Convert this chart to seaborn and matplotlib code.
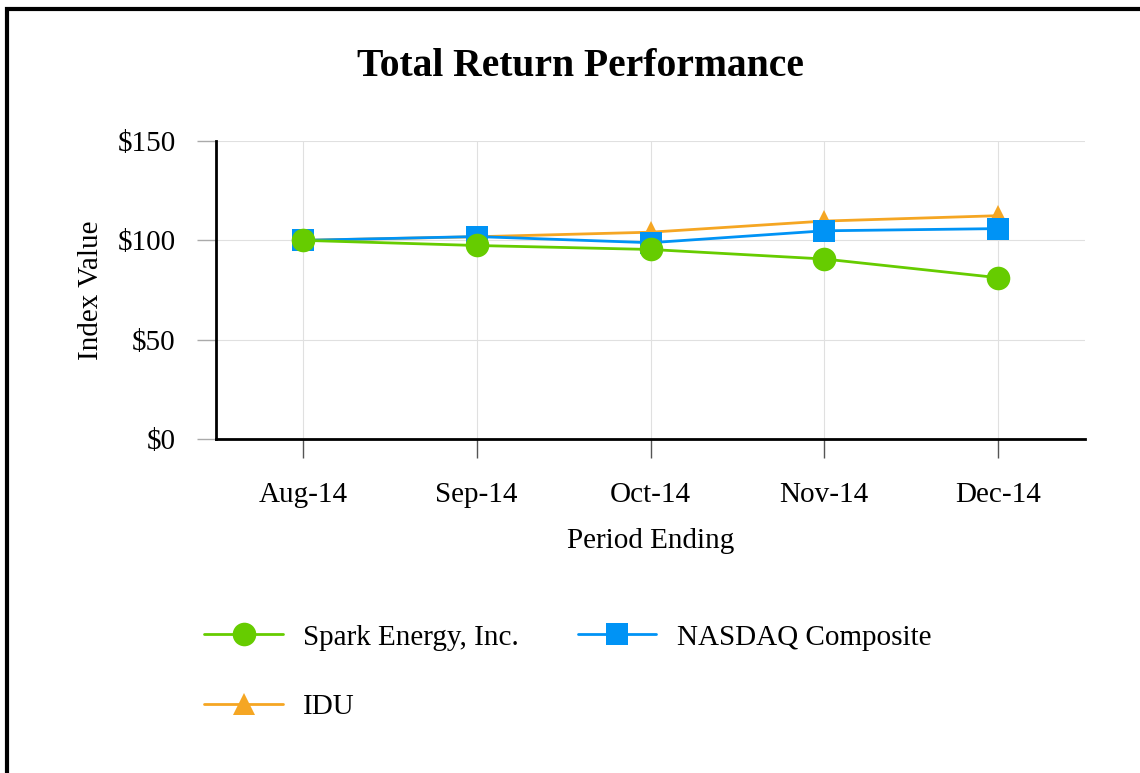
import matplotlib
matplotlib.use("Agg")
import matplotlib.pyplot as plt
import seaborn as sns
import pandas as pd
from matplotlib.patches import Rectangle

periods = ["Aug-14", "Sep-14", "Oct-14", "Nov-14", "Dec-14"]
spark = [100.0, 97.4, 95.4, 90.6, 81.2]
nasdaq = [100.0, 101.9, 98.8, 104.8, 105.9]
idu = [100.0, 101.8, 104.1, 109.7, 112.4]
y_ticks = [0, 50, 100, 150]
y_tick_labels = ["$0", "$50", "$100", "$150"]

series_names = ["Spark Energy, Inc.", "NASDAQ Composite", "IDU"]
colors = {"Spark Energy, Inc.": "#66cc00", "NASDAQ Composite": "#0093f5", "IDU": "#f5a623"}
markers = {"Spark Energy, Inc.": "o", "NASDAQ Composite": "s", "IDU": "^"}

rows = []
for name, vals in zip(series_names, [spark, nasdaq, idu]):
    for i, v in enumerate(vals):
        rows.append({"x": i, "Period": periods[i], "Value": v, "Series": name})
df = pd.DataFrame(rows)

sns.set_theme(style="white")
plt.rcParams["font.family"] = ["Liberation Serif", "DejaVu Serif"]
plt.rcParams["text.color"] = "black"
plt.rcParams["axes.labelcolor"] = "black"
plt.rcParams["xtick.labelcolor"] = "black"
plt.rcParams["ytick.labelcolor"] = "black"

fig = plt.figure(figsize=(11.4, 7.73), dpi=100)
ax = fig.add_axes([216/1140, 1-439/773, (1085-216)/1140, (439-141)/773])

# draw order: IDU bottom, NASDAQ, Spark on top
draw_order = ["IDU", "NASDAQ Composite", "Spark Energy, Inc."]
handles = {}
for z, name in enumerate(draw_order):
    sub = df[df["Series"] == name]
    ms = {"o": 17, "s": 16, "^": 16}[markers[name]]
    sns.lineplot(data=sub, x="x", y="Value", ax=ax, color=colors[name],
                 marker=markers[name], markersize=ms, markeredgewidth=0,
                 linewidth=2, zorder=3 + z, legend=False)
    handles[name] = ax.lines[-1]

ax.set_xlim(-0.5, 4.5)
ax.set_ylim(0, 150)
ax.set_xticks(range(len(periods)))
ax.set_xticklabels(periods)
ax.set_yticks(y_ticks)
ax.set_yticklabels(y_tick_labels)
ax.grid(True, color="#e0e0e0", linewidth=0.8)
ax.set_axisbelow(True)

for s in ["top", "right"]:
    ax.spines[s].set_visible(False)
for s in ["left", "bottom"]:
    ax.spines[s].set_color("black")
    ax.spines[s].set_linewidth(2)

ax.tick_params(axis="x", which="major", direction="out", length=14, width=1,
               color="#555555", labelsize=21, pad=17, bottom=True)
ax.tick_params(axis="y", which="major", direction="out", length=14, width=1,
               color="#aaaaaa", labelsize=21, pad=15, left=True)

ax.set_xlabel("Period Ending", fontsize=21, labelpad=14)
ax.set_ylabel("Index Value", fontsize=21, labelpad=10)

fig.text(580/1140, 1-66/773, "Total Return Performance", ha="center", va="center",
         fontsize=28.5, fontweight="bold")

leg_order = ["Spark Energy, Inc.", "IDU", "NASDAQ Composite"]
leg = fig.legend([handles[n] for n in leg_order], leg_order,
                 loc="upper left", bbox_to_anchor=(178/1140, 1-598/773),
                 ncol=2, frameon=False, fontsize=21, handlelength=2.7,
                 columnspacing=2.0, labelspacing=1.48, handletextpad=0.7)

# figure border (left and top visible)
fig.patches.append(Rectangle((7/1140, -0.1), 1.2, 1 - 9/773 + 0.1,
                             transform=fig.transFigure, fill=False,
                             edgecolor="black", linewidth=3, clip_on=False))

fig.savefig("out.png", dpi=100, facecolor="white")
